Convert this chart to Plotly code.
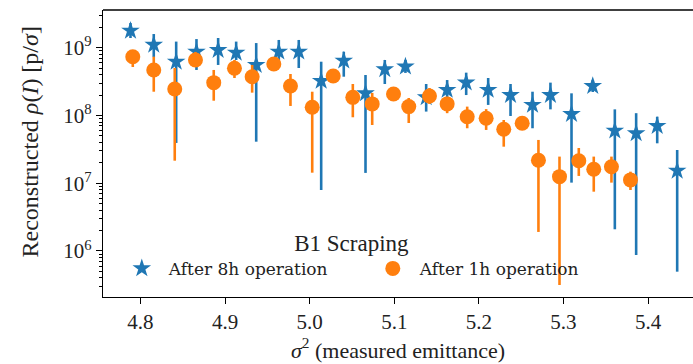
import plotly.graph_objects as go

# After 8h operation (blue stars)
x_8h = [4.7882, 4.8157, 4.8422, 4.8662, 4.8918, 4.9131, 4.9368, 4.9635, 4.9871,
        5.0136, 5.0403, 5.0660, 5.0888, 5.1132, 5.1377, 5.1625, 5.1850, 5.2110,
        5.2374, 5.2634, 5.2846, 5.3095, 5.3346, 5.3607, 5.3859, 5.4108, 5.4344]
y_8h = [1.78e9, 1.10e9, 6.21e8, 8.73e8, 9.25e8, 8.43e8, 5.56e8, 8.73e8, 8.73e8,
        3.23e8, 6.43e8, 2.12e8, 4.80e8, 5.25e8, 1.85e8, 2.38e8, 3.05e8, 2.38e8,
        2.00e8, 1.43e8, 2.00e8, 1.05e8, 2.72e8, 5.96e7, 5.46e7, 7.00e7, 1.53e7]
hi_8h = [2.31e9, 1.59e9, 1.23e9, 1.34e9, 1.39e9, 1.23e9, 1.17e9, 1.30e9, 1.30e9,
         6.21e8, 8.73e8, 3.95e8, 6.58e8, 6.58e8, 2.91e8, 3.33e8, 4.28e8, 3.57e8,
         2.91e8, 2.24e8, 3.05e8, 2.12e8, 3.33e8, 1.23e8, 1.08e8, 9.59e7, 3.09e7]
lo_8h = [1.39e9, 7.30e8, 3.93e7, 4.69e8, 5.56e8, 6.58e8, 4.10e7, 6.58e8, 5.01e8,
         7.94e6, 3.73e8, 1.42e7, 2.91e8, 4.24e8, 1.14e8, 1.51e8, 2.00e8, 1.43e8,
         9.82e7, 6.47e7, 1.23e8, 1.02e7, 2.22e8, 2.09e6, 8.73e5, 3.88e7, 4.95e5]

# After 1h operation (orange circles)
x_1h = [4.7909, 4.8157, 4.8405, 4.8650, 4.8866, 4.9111, 4.9320, 4.9576, 4.9773,
        5.0030, 5.0278, 5.0510, 5.0739, 5.0991, 5.1171, 5.1416, 5.1625, 5.1862,
        5.2086, 5.2294, 5.2512, 5.2704, 5.2953, 5.3181, 5.3358, 5.3567, 5.3792]
y_1h = [7.36e8, 4.69e8, 2.46e8, 6.58e8, 3.05e8, 4.97e8, 3.73e8, 5.74e8, 2.72e8,
        1.32e8, 3.82e8, 1.85e8, 1.48e8, 2.07e8, 1.35e8, 1.94e8, 1.48e8, 9.59e7,
        9.08e7, 6.25e7, 7.66e7, 2.18e7, 1.25e7, 2.15e7, 1.61e7, 1.75e7, 1.12e7]
hi_1h = [8.36e8, 7.36e8, 5.01e8, 8.65e8, 4.69e8, 6.58e8, 5.56e8, 7.05e8, 4.09e8,
         2.24e8, 4.69e8, 2.91e8, 2.15e8, 2.54e8, 1.81e8, 2.54e8, 1.89e8, 1.35e8,
         1.24e8, 8.57e7, 9.48e7, 4.35e7, 2.47e7, 3.31e7, 2.47e7, 2.47e7, 1.48e7]
lo_1h = [5.19e8, 2.24e8, 2.15e7, 5.56e8, 1.65e8, 3.57e8, 2.17e8, 4.69e8, 1.38e8,
         1.43e7, 3.01e8, 9.40e7, 7.23e7, 1.69e8, 7.74e7, 1.48e8, 1.08e8, 6.47e7,
         6.11e7, 3.46e7, 6.11e7, 1.91e6, 3.15e5, 1.28e7, 7.50e6, 1.02e7, 7.94e6]

x_ticks = [4.8, 4.9, 5.0, 5.1, 5.2, 5.3, 5.4]
x_ticklabels = ["4.8", "4.9", "5.0", "5.1", "5.2", "5.3", "5.4"]
y_ticks = [1e6, 1e7, 1e8, 1e9]
y_ticklabels = ["10<sup>6</sup>", "10<sup>7</sup>", "10<sup>8</sup>", "10<sup>9</sup>"]

BLUE = "#1f77b4"
ORANGE = "#ff7f0e"
FONT = "Liberation Serif"

fig = go.Figure()
fig.add_trace(go.Scatter(
    x=x_8h, y=y_8h, mode="markers", name="After 8h operation",
    marker=dict(symbol="star", size=14, color=BLUE),
    error_y=dict(type="data", symmetric=False,
                 array=[h - v for h, v in zip(hi_8h, y_8h)],
                 arrayminus=[v - l for v, l in zip(y_8h, lo_8h)],
                 color=BLUE, thickness=2.6, width=0),
))
fig.add_trace(go.Scatter(
    x=x_1h, y=y_1h, mode="markers", name="After 1h operation",
    marker=dict(symbol="circle", size=15, color=ORANGE),
    error_y=dict(type="data", symmetric=False,
                 array=[h - v for h, v in zip(hi_1h, y_1h)],
                 arrayminus=[v - l for v, l in zip(y_1h, lo_1h)],
                 color=ORANGE, thickness=2.6, width=0),
))

fig.update_layout(
    width=693, height=364,
    margin=dict(l=103, r=0, t=10, b=67),
    paper_bgcolor="white", plot_bgcolor="white",
    font=dict(family=FONT, size=20, color="#222"),
    showlegend=True,
    legend=dict(
        orientation="h", x=0.02, y=0.265, xanchor="left", yanchor="top",
        bgcolor="rgba(0,0,0,0)", borderwidth=0,
        title=dict(text="B1 Scraping&nbsp;&nbsp;&nbsp;&nbsp;&nbsp;", side="top center",
                   font=dict(family=FONT, size=23, color="#222")),
        font=dict(family="DejaVu Serif", size=17, color="#222"),
        itemwidth=44,
        entrywidth=192, entrywidthmode="pixels",
    ),
    xaxis=dict(
        range=[4.7557, 5.4531], tickvals=x_ticks, ticktext=x_ticklabels,
        showgrid=False, zeroline=False, showline=True, linecolor="black",
        linewidth=1.3, ticks="outside", ticklen=6, tickwidth=1.3,
        tickcolor="black", tickfont=dict(family=FONT, size=21),
        title=dict(text="<i>σ</i><sup>2</sup> (measured emittance)",
                   font=dict(family=FONT, size=22), standoff=8),
    ),
    yaxis=dict(
        type="log", range=[5.321, 9.556], tickvals=y_ticks, ticktext=y_ticklabels,
        showgrid=False, zeroline=False, showline=True, linecolor="black",
        linewidth=1.3, ticks="outside", ticklen=6, tickwidth=1.3,
        tickcolor="black", tickfont=dict(family=FONT, size=21),
        minor=dict(ticks="outside", ticklen=3, tickwidth=1, tickcolor="black",
                   dtick="D1", showgrid=False),
    ),
)
# y-axis title placed explicitly
fig.add_annotation(text="Reconstructed <i>ρ</i>(<i>I</i>) [p/<i>σ</i>]",
                   xref="paper", yref="paper", x=-0.123, y=0.54,
                   xanchor="center", yanchor="middle", textangle=-90,
                   showarrow=False, font=dict(family=FONT, size=24, color="#222"))
# top frame line (the right edge of the reference is cropped)
fig.add_shape(type="line", xref="paper", yref="paper", x0=0, x1=1, y0=1, y1=1,
              line=dict(color="black", width=1.3))

fig.write_html("out.html")
